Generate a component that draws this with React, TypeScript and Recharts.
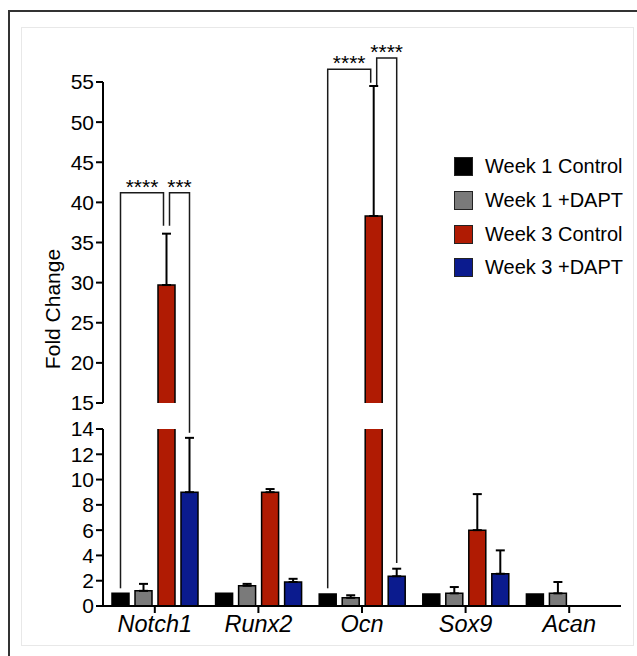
import React from 'react';
import { BarChart, Bar, XAxis, YAxis, ErrorBar, Legend } from 'recharts';

const FONT = '"Liberation Sans", Arial, Helvetica, sans-serif';

// ---------------- data ----------------
const genes = ['Notch1', 'Runx2', 'Ocn', 'Sox9', 'Acan'];
const seriesNames = ['Week 1 Control', 'Week 1 +DAPT', 'Week 3 Control', 'Week 3 +DAPT'];
const seriesKeys = ['w1c', 'w1d', 'w3c', 'w3d'];
const seriesColors = ['#000000', '#7a7a7a', '#b01b03', '#0b1b8e'];

const week1Control = [1.0, 1.0, 0.95, 0.95, 0.95];
const week1Dapt = [1.2, 1.6, 0.65, 1.0, 1.0];
const week3Control = [29.7, 9.0, 38.3, 6.0, 0];
const week3Dapt = [9.0, 1.9, 2.35, 2.55, 0];

const week1ControlErr = [0, 0, 0, 0, 0];
const week1DaptErr = [0.55, 0.15, 0.2, 0.5, 0.9];
const week3ControlErr = [6.4, 0.25, 16.2, 2.85, 0];
const week3DaptErr = [4.3, 0.25, 0.6, 1.85, 0];

const lowerTicks = [0, 2, 4, 6, 8, 10, 12, 14];
const upperTicks = [15, 20, 25, 30, 35, 40, 45, 50, 55];
const BREAK_LOW = 14;
const BREAK_HIGH = 15;
const TOP = 55;

// significance brackets (series index 0..3, levels in data units)
const bracketGene = ['Notch1', 'Notch1', 'Ocn', 'Ocn'];
const bracketFrom = [0, 2, 0, 2];
const bracketTo = [2, 3, 2, 3];
const bracketLevel = [41.2, 41.2, 56.6, 58.0];
const bracketFromEnd = [1.4, 37.1, 1.4, 54.6];
const bracketToEnd = [37.1, 13.7, 54.9, 3.4];
const bracketText = ['****', '***', '****', '****'];

// ---------------- tables built from the arrays ----------------
const seriesValues = [week1Control, week1Dapt, week3Control, week3Dapt];
const seriesErrs = [week1ControlErr, week1DaptErr, week3ControlErr, week3DaptErr];

const lowerRows = genes.map((g, i) => {
  const r: any = { gene: g };
  seriesKeys.forEach((k, s) => {
    const v = seriesValues[s][i];
    const e = seriesErrs[s][i];
    r[k] = Math.min(v, BREAK_LOW);
    r[k + 'Raw'] = v;
    r[k + 'Err'] = v <= BREAK_LOW && e > 0 ? [0, e] : null;
  });
  return r;
});

const upperRows = genes.map((g, i) => {
  const r: any = { gene: g };
  seriesKeys.forEach((k, s) => {
    const v = seriesValues[s][i];
    const e = seriesErrs[s][i];
    r[k] = v > BREAK_LOW ? v : null;
    r[k + 'Raw'] = v;
    r[k + 'Err'] = v > BREAK_LOW && e > 0 ? [0, e] : null;
  });
  return r;
});

// ---------------- layout ----------------
const W = 637;
const H = 656;
const SPLIT = 416;
const UPPER_MARGIN = { top: 82, right: 16, bottom: 13, left: 43 };
const LOWER_MARGIN = { top: 13, right: 16, bottom: 0, left: 43 };
const Y_AXIS_W = 60;
const X_AXIS_H = 50;
const BAR_SIZE = 17;
const BAR_GAP = 6;
const SHARED = 3;

const makeRedShape = (part: 'upper' | 'lower', svgH: number) => (props: any) => {
  const { x, y, width, height, fill, payload } = props;
  if (!payload) return <g />;
  const raw = payload.w3cRaw;
  const shown = payload.w3c;
  if (shown == null || !isFinite(y) || !isFinite(height) || height <= 0) return <g />;
  const broken = raw > BREAK_LOW;
  const base = part === 'upper' ? BREAK_HIGH : 0;
  const bottom = y + height;
  const pix = (v: number) => bottom - ((v - base) * height) / (shown - base);
  const openTop = part === 'lower' && broken;
  const openBottom = part === 'upper';
  let d: string;
  if (openBottom) d = `M${x},${bottom}V${y}H${x + width}V${bottom}`;
  else if (openTop) d = `M${x},${y}V${bottom}H${x + width}V${y}`;
  else d = `M${x},${y}H${x + width}V${bottom}H${x}Z`;

  const cx = x + width / 2;
  const pitch = width + BAR_GAP;
  const legX = (s: number, other: number) => {
    const c = cx + (s - 2) * pitch;
    if (s === 2) return c + (other < 2 ? -SHARED : SHARED);
    return c;
  };
  const brackets: any[] = [];
  bracketGene.forEach((g, b) => {
    if (g !== payload.gene) return;
    const xa = legX(bracketFrom[b], bracketTo[b]);
    const xb = legX(bracketTo[b], bracketFrom[b]);
    const ea = bracketFromEnd[b];
    const eb = bracketToEnd[b];
    if (part === 'upper') {
      const yl = pix(bracketLevel[b]);
      const ya = ea >= BREAK_HIGH ? pix(ea) : svgH;
      const yb = eb >= BREAK_HIGH ? pix(eb) : svgH;
      brackets.push(
        <path key={'p' + b} d={`M${xa},${ya}V${yl}H${xb}V${yb}`} fill="none" stroke="#1a1a1a" strokeWidth={1.5} />
      );
      brackets.push(
        <text key={'t' + b} x={(xa + xb) / 2} y={yl + 1} textAnchor="middle" fontSize={21} fill="#000">
          {bracketText[b]}
        </text>
      );
    } else {
      [[xa, ea], [xb, eb]].forEach(([lx, le], j) => {
        if (le < BREAK_HIGH) {
          brackets.push(
            <path key={'l' + b + j} d={`M${lx},0V${pix(le)}`} fill="none" stroke="#1a1a1a" strokeWidth={1.5} />
          );
        }
      });
    }
  });

  return (
    <g>
      <rect x={x} y={y} width={width} height={height} fill={fill} />
      <path d={d} fill="none" stroke="#000" strokeWidth={1.5} />
      {brackets}
    </g>
  );
};

const GeneTick = (props: any) => {
  const { x, y, payload } = props;
  return (
    <text x={x} y={y} dy={17} textAnchor="middle" fontSize={23.5} fontStyle="italic" fill="#000">
      {payload.value}
    </text>
  );
};

const FoldLabel = (props: any) => {
  const vb = props.viewBox || { x: 43, y: 82, width: 60, height: 321 };
  const cx = vb.x + 9;
  const cy = vb.y + vb.height - 94;
  return (
    <text
      x={cx}
      y={cy}
      transform={`rotate(-90 ${cx} ${cy})`}
      textAnchor="middle"
      dominantBaseline="central"
      fontSize={21}
      fill="#000"
    >
      Fold Change
    </text>
  );
};

const renderLegend = (props: any) => {
  const payload = [...(props.payload || [])].sort(
    (a: any, b: any) => seriesNames.indexOf(a.value) - seriesNames.indexOf(b.value)
  );
  return (
    <div style={{ fontFamily: FONT, fontSize: 20, color: '#000', whiteSpace: 'nowrap' }}>
      {payload.map((p: any, i: number) => (
        <div key={i} style={{ display: 'flex', alignItems: 'center', height: 33.7 }}>
          <span
            style={{
              display: 'inline-block',
              width: 17,
              height: 17,
              background: p.color,
              border: '1px solid #222',
              marginRight: 12,
              flex: 'none',
            }}
          />
          <span>{p.value}</span>
        </div>
      ))}
    </div>
  );
};

const axisStroke = { stroke: '#000', strokeWidth: 2 };
const yTick = { fontSize: 21, fill: '#000' };

export default function App() {
  return (
    <div
      style={{
        position: 'fixed',
        left: 0,
        top: 0,
        width: W,
        height: H,
        overflow: 'hidden',
        background: '#fff',
        fontFamily: FONT,
      }}
    >
      <div
        style={{
          position: 'absolute',
          left: 8,
          top: 10,
          width: 700,
          height: 700,
          border: '2px solid #333',
        }}
      />
      <div
        style={{
          position: 'absolute',
          left: 21,
          top: 27,
          width: 613,
          height: 619,
          boxSizing: 'border-box',
          border: '1px solid #e8e8e8',
        }}
      />
      <div style={{ position: 'absolute', left: 0, top: 0 }}>
        <BarChart
          width={W}
          height={SPLIT}
          data={upperRows}
          margin={UPPER_MARGIN}
          barSize={BAR_SIZE}
          barGap={BAR_GAP}
        >
          <XAxis dataKey="gene" hide />
          <YAxis
            type="number"
            domain={[BREAK_HIGH, TOP]}
            ticks={upperTicks}
            interval={0}
            width={Y_AXIS_W}
            tickSize={7}
            tick={yTick}
            tickLine={axisStroke}
            axisLine={axisStroke}
            label={{ content: FoldLabel }}
          />
          {seriesKeys.map((k, s) => (
            <Bar
              key={k}
              dataKey={k}
              name={seriesNames[s]}
              fill={seriesColors[s]}
              stroke="#000"
              strokeWidth={1.5}
              isAnimationActive={false}
              shape={s === 2 ? makeRedShape('upper', SPLIT) : undefined}
            >
              <ErrorBar
                dataKey={k + 'Err'}
                direction="y"
                width={4.5}
                stroke="#000"
                strokeWidth={2}
                isAnimationActive={false}
              />
            </Bar>
          ))}
          <Legend
            layout="vertical"
            align="center"
            verticalAlign="middle"
            wrapperStyle={{ left: 454, top: 150, width: 183 }}
            content={renderLegend}
          />
        </BarChart>
      </div>
      <div style={{ position: 'absolute', left: 0, top: SPLIT }}>
        <BarChart
          width={W}
          height={H - SPLIT}
          data={lowerRows}
          margin={LOWER_MARGIN}
          barSize={BAR_SIZE}
          barGap={BAR_GAP}
        >
          <XAxis
            dataKey="gene"
            height={X_AXIS_H}
            interval={0}
            tickSize={7}
            tick={<GeneTick />}
            tickLine={axisStroke}
            axisLine={axisStroke}
          />
          <YAxis
            type="number"
            domain={[0, BREAK_LOW]}
            ticks={lowerTicks}
            interval={0}
            width={Y_AXIS_W}
            tickSize={7}
            tick={yTick}
            tickLine={axisStroke}
            axisLine={axisStroke}
          />
          {seriesKeys.map((k, s) => (
            <Bar
              key={k}
              dataKey={k}
              name={seriesNames[s]}
              fill={seriesColors[s]}
              stroke="#000"
              strokeWidth={1.5}
              isAnimationActive={false}
              shape={s === 2 ? makeRedShape('lower', H - SPLIT) : undefined}
            >
              <ErrorBar
                dataKey={k + 'Err'}
                direction="y"
                width={4.5}
                stroke="#000"
                strokeWidth={2}
                isAnimationActive={false}
              />
            </Bar>
          ))}
        </BarChart>
      </div>
    </div>
  );
}
